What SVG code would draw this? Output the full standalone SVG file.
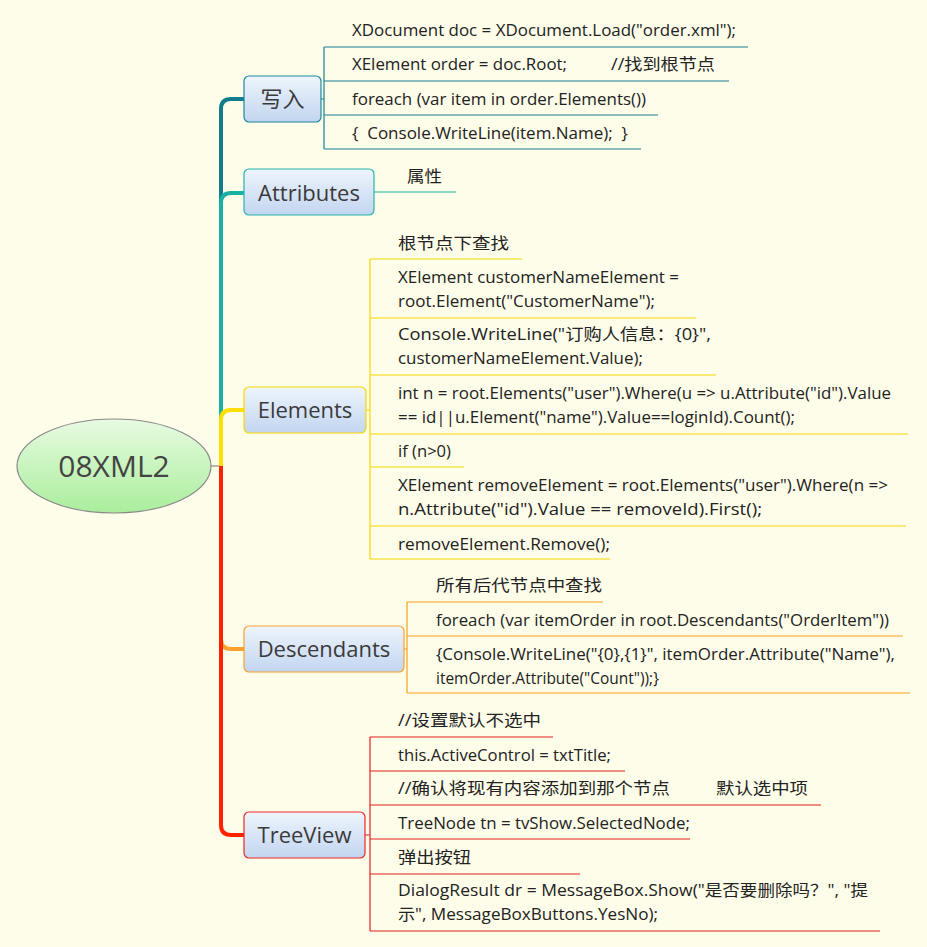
<svg xmlns="http://www.w3.org/2000/svg" width="927" height="947" viewBox="0 0 927 947">
<defs>
<linearGradient id="gc" x1="0" y1="0" x2="0" y2="1"><stop offset="0" stop-color="#e8fbe2"/><stop offset="1" stop-color="#aaee9c"/></linearGradient>
<linearGradient id="gb" x1="0" y1="0" x2="0" y2="1"><stop offset="0" stop-color="#eef5fd"/><stop offset="1" stop-color="#c2d5f0"/></linearGradient>
<style>
.t{font-family:"Open Sans","Noto Sans CJK SC",sans-serif;font-size:16px;fill:#222}
.n{font-family:"Open Sans","Noto Sans CJK SC",sans-serif;font-size:22px;fill:#3a3a3a;text-anchor:middle}
.box{fill:url(#gb);stroke-width:1.2}
.br{fill:none;stroke-width:4;stroke-linejoin:round}
.sl{fill:none;stroke-width:1.2}
</style>
</defs>
<rect width="927" height="947" fill="#fefde9"/>
<g id="connectors">
<path d="M211,466 H221" stroke="#888" stroke-width="1.2"/>
<path class="br" stroke="#137c8c" d="M221,466 V109 Q221,99 231,99 H244"/>
<path class="br" stroke="#18b0a0" d="M221,466 V203 Q221,193 231,193 H244"/>
<path class="br" stroke="#ffdf00" d="M221,466 V420 Q221,410 231,410 H244"/>
<path class="br" stroke="#ffa030" d="M221,466 V639 Q221,649 231,649 H244"/>
<path class="br" stroke="#ff2200" d="M221,466 V825 Q221,835 231,835 H244"/>
<g class="sl" stroke="#177f90">
<path d="M321,99 H324 M324,47 V149 M324,47 H748 M324,81 H729 M324,115 H658 M324,149 H641"/>
</g>
<g class="sl" stroke="#1eb0a2"><path d="M374,192 H456"/></g>
<g class="sl" stroke="#f3d800">
<path d="M366,410 H370 M370,259 V559 M370,259 H522 M370,318 H696 M370,375 H716 M370,434 H908 M370,467 H464 M370,526 H906 M370,559 H610"/>
</g>
<g class="sl" stroke="#f8a020">
<path d="M404,649 H407 M407,602 V693 M407,602 H603 M407,636 H903 M407,693 H910"/>
</g>
<g class="sl" stroke="#e42020">
<path d="M365,835 H370 M370,737 V931 M370,737 H553 M370,771 H625 M370,805 H821 M370,839 H690 M370,874 H580 M370,931 H880"/>
</g>
</g>
<g id="center">
<ellipse cx="114" cy="466" rx="97" ry="47" fill="url(#gc)" stroke="#8a8a8a" stroke-width="1.2"/>
<text x="114" y="477" style="font-family:'Open Sans',sans-serif;font-size:30px;fill:#444;text-anchor:middle">08XML2</text>
</g>
<g id="n-xieru">
<rect class="box" x="244" y="76" width="77" height="46" rx="5" stroke="#1a8a9c"/>
<text class="n" x="282.5" y="107" style="font-family:'Noto Sans CJK SC',sans-serif">写入</text>
<text class="t" x="352" y="36" textLength="384" lengthAdjust="spacingAndGlyphs">XDocument doc = XDocument.Load("order.xml");</text>
<text class="t" x="352" y="70" textLength="215" lengthAdjust="spacingAndGlyphs">XElement order = doc.Root;</text>
<text class="t" x="611" y="70" textLength="104" lengthAdjust="spacingAndGlyphs">//找到根节点</text>
<text class="t" x="352" y="105" textLength="294" lengthAdjust="spacingAndGlyphs">foreach (var item in order.Elements())</text>
<text class="t" x="352" y="139" textLength="276" lengthAdjust="spacingAndGlyphs" xml:space="preserve">{  Console.WriteLine(item.Name);  }</text>
</g>
<g id="n-attributes">
<rect class="box" x="244" y="169" width="130" height="46" rx="5" stroke="#25b4aa"/>
<text class="n" x="309" y="201">Attributes</text>
<text class="t" x="407" y="182" textLength="35" lengthAdjust="spacingAndGlyphs">属性</text>
</g>
<g id="n-elements">
<rect class="box" x="244" y="387" width="122" height="46" rx="5" stroke="#f5d800"/>
<text class="n" x="305" y="418">Elements</text>
<text class="t" x="398" y="249" textLength="111" lengthAdjust="spacingAndGlyphs">根节点下查找</text>
<text class="t" x="398" y="283" textLength="281" lengthAdjust="spacingAndGlyphs">XElement customerNameElement =</text>
<text class="t" x="398" y="307" textLength="257" lengthAdjust="spacingAndGlyphs">root.Element("CustomerName");</text>
<text class="t" x="398" y="340" textLength="313" lengthAdjust="spacingAndGlyphs">Console.WriteLine("订购人信息：{0}",</text>
<text class="t" x="398" y="364" textLength="245" lengthAdjust="spacingAndGlyphs">customerNameElement.Value);</text>
<text class="t" x="398" y="399" textLength="493" lengthAdjust="spacingAndGlyphs">int n = root.Elements("user").Where(u =&gt; u.Attribute("id").Value</text>
<text class="t" x="398" y="423" textLength="397" lengthAdjust="spacingAndGlyphs">== id||u.Element("name").Value==loginId).Count();</text>
<text class="t" x="398" y="457" textLength="53" lengthAdjust="spacingAndGlyphs">if (n&gt;0)</text>
<text class="t" x="398" y="491" textLength="490" lengthAdjust="spacingAndGlyphs">XElement removeElement = root.Elements("user").Where(n =&gt;</text>
<text class="t" x="398" y="515" textLength="364" lengthAdjust="spacingAndGlyphs">n.Attribute("id").Value == removeId).First();</text>
<text class="t" x="398" y="550" textLength="212" lengthAdjust="spacingAndGlyphs">removeElement.Remove();</text>
</g>
<g id="n-descendants">
<rect class="box" x="244" y="626" width="160" height="46" rx="5" stroke="#f8a030"/>
<text class="n" x="324" y="657">Descendants</text>
<text class="t" x="436" y="591" textLength="166" lengthAdjust="spacingAndGlyphs">所有后代节点中查找</text>
<text class="t" x="436" y="626" textLength="453" lengthAdjust="spacingAndGlyphs">foreach (var itemOrder in root.Descendants("OrderItem"))</text>
<text class="t" x="436" y="660" textLength="459" lengthAdjust="spacingAndGlyphs">{Console.WriteLine("{0},{1}", itemOrder.Attribute("Name"),</text>
<text class="t" x="436" y="684" textLength="223" lengthAdjust="spacingAndGlyphs">itemOrder.Attribute("Count"));}</text>
</g>
<g id="n-treeview">
<rect class="box" x="244" y="812" width="121" height="46" rx="5" stroke="#e82828"/>
<text class="n" x="304.5" y="843">TreeView</text>
<text class="t" x="398" y="726" textLength="143" lengthAdjust="spacingAndGlyphs">//设置默认不选中</text>
<text class="t" x="398" y="761" textLength="213" lengthAdjust="spacingAndGlyphs">this.ActiveControl = txtTitle;</text>
<text class="t" x="398" y="794" textLength="272" lengthAdjust="spacingAndGlyphs">//确认将现有内容添加到那个节点</text>
<text class="t" x="716" y="794" textLength="92" lengthAdjust="spacingAndGlyphs">默认选中项</text>
<text class="t" x="398" y="829" textLength="292" lengthAdjust="spacingAndGlyphs">TreeNode tn = tvShow.SelectedNode;</text>
<text class="t" x="398" y="863" textLength="73" lengthAdjust="spacingAndGlyphs">弹出按钮</text>
<text class="t" x="398" y="896" textLength="470" lengthAdjust="spacingAndGlyphs">DialogResult dr = MessageBox.Show("是否要删除吗？", "提</text>
<text class="t" x="398" y="920" textLength="260" lengthAdjust="spacingAndGlyphs">示", MessageBoxButtons.YesNo);</text>
</g>
</svg>
